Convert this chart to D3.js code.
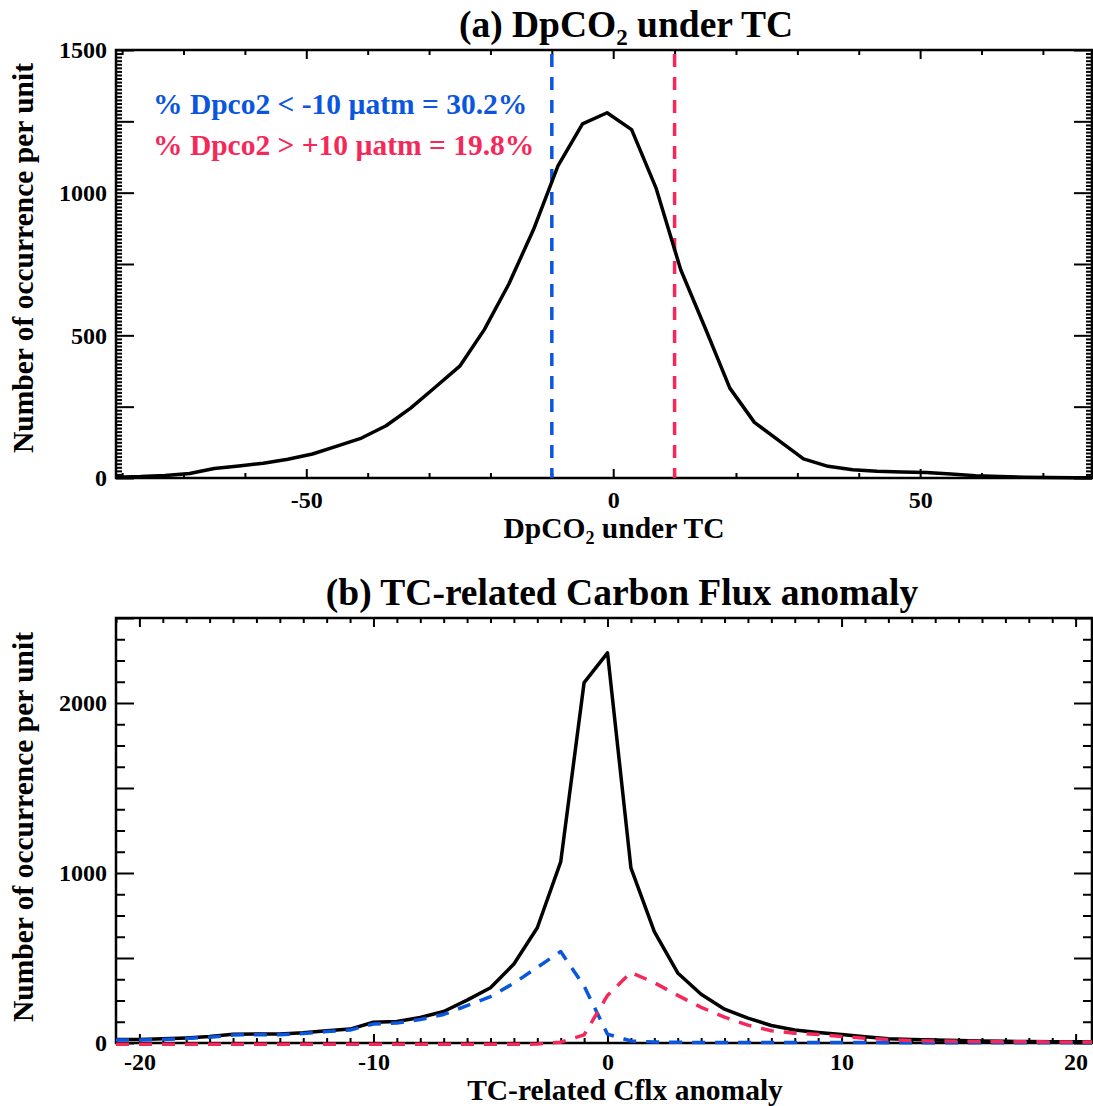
<!DOCTYPE html>
<html>
<head>
<meta charset="utf-8">
<script src="https://cdn.jsdelivr.net/npm/d3@7"></script>
<style>
body { margin: 0; background: #fff; }
text { font-family: "Liberation Serif", "Times New Roman", serif; font-weight: bold; fill: #000; }
</style>
</head>
<body>
<div id="chart"></div>
<script>
const w = 1093;
const h = 1106;
const blue = "#0a56de";
const red = "#f5285a";

// panel (a): DpCO2 under TC
const dpco2Bins = [-81, -77, -73, -69, -65, -61, -57, -53, -49, -45, -41, -37, -33, -29, -25, -21, -17, -13, -9, -5,
                   -1, 3, 7, 11, 15, 19, 23, 27, 31, 35, 39, 43, 47, 51, 55, 59, 63, 67, 71, 75, 79];
const dpco2Counts = [3, 5, 9, 16, 33, 42, 52, 66, 84, 112, 140, 183, 245, 318, 392, 520, 680, 870, 1094, 1241,
                     1280, 1221, 1015, 730, 525, 315, 195, 131, 67, 41, 29, 24, 21, 19, 14, 8, 5, 3, 2, 1, 1];
const dpco2Thresholds = [-10, 10];
const aXTicks = [-50, 0, 50];
const aYTicks = [0, 500, 1000, 1500];

// panel (b): TC-related carbon flux anomaly
const cflxBins = [-21, -20, -19, -18, -17, -16, -15, -14, -13, -12, -11, -10, -9, -8, -7, -6, -5, -4, -3, -2, -1,
                  0, 1, 2, 3, 4, 5, 6, 7, 8, 9, 10, 11, 12, 13, 14, 15, 16, 17, 18, 19, 20, 21];
const cflxTotal = [20, 20, 25, 30, 38, 52, 53, 53, 60, 72, 82, 122, 127, 150, 185, 252, 325, 465, 678, 1065, 2120,
                   2295, 1030, 655, 412, 287, 199, 146, 103, 77, 62, 50, 37, 25, 20, 17, 14, 12, 10, 9, 8, 7, 7];
const cflxNeg = [18, 17, 21, 27, 34, 47, 49, 49, 56, 67, 76, 112, 117, 138, 168, 220, 273, 352, 445, 538, 335,
                 52, 12, 6, 4, 3, 3, 3, 3, 3, 3, 3, 3, 2, 2, 2, 2, 2, 2, 2, 2, 2, 2];
const cflxPos = [-8, -8, -8, -8, -8, -8, -8, -8, -8, -8, -8, -8, -8, -8, -8, -8, -8, -8, -6, 5, 48,
                 280, 415, 355, 280, 210, 152, 105, 72, 58, 50, 38, 28, 20, 15, 12, 10, 9, 8, 7, 6, 6, 6];
const bXTicks = [-20, -10, 0, 10, 20];
const bYTicks = [0, 1000, 2000];

const left = 116, right = 1092;

const svg = d3.select("#chart").append("svg").attr("width", w).attr("height", h);

function frame(id, x, y, top, bottom, o) {
    const g = svg.append("g");
    g.append("clipPath").attr("id", id).append("rect")
        .attr("x", left).attr("y", top - 4).attr("width", right - left).attr("height", bottom - top + 8);

    const styleAxis = a => {
        a.select(".domain").remove();
        a.selectAll("line").attr("stroke", "#000").attr("stroke-width", 2);
        a.selectAll("text").attr("font-size", 24).attr("font-family", null);
    };
    const fmt = d => String(d); // plain hyphen minus like the original
    // x ticks, bottom and top
    g.append("g").attr("transform", `translate(0,${bottom})`)
        .call(d3.axisBottom(x).tickValues(o.xMinor).tickSize(-5).tickFormat("")).call(styleAxis);
    g.append("g").attr("transform", `translate(0,${bottom})`)
        .call(d3.axisBottom(x).tickValues(o.xMajor).tickSize(-9).tickPadding(o.xPad).tickFormat(fmt)).call(styleAxis);
    g.append("g").attr("transform", `translate(0,${top})`)
        .call(d3.axisTop(x).tickValues(o.xMinor).tickSize(-5).tickFormat("")).call(styleAxis);
    g.append("g").attr("transform", `translate(0,${top})`)
        .call(d3.axisTop(x).tickValues(o.xMajor).tickSize(-9).tickFormat("")).call(styleAxis);
    // y ticks, left and right
    g.append("g").attr("transform", `translate(${left},0)`)
        .call(d3.axisLeft(y).tickValues(o.yMinor).tickSize(-o.yMinorLen).tickFormat("")).call(styleAxis);
    g.append("g").attr("transform", `translate(${left},0)`)
        .call(d3.axisLeft(y).tickValues(o.yMajor).tickSize(-18).tickPadding(9)
            .tickFormat(d => o.yLabels.includes(d) ? fmt(d) : "")).call(styleAxis);
    g.append("g").attr("transform", `translate(${right},0)`)
        .call(d3.axisRight(y).tickValues(o.yMinor).tickSize(-o.yMinorLen).tickFormat("")).call(styleAxis);
    g.append("g").attr("transform", `translate(${right},0)`)
        .call(d3.axisRight(y).tickValues(o.yMajor).tickSize(-18).tickFormat("")).call(styleAxis);

    g.append("rect").attr("x", left).attr("y", top).attr("width", right - left).attr("height", bottom - top)
        .attr("fill", "none").attr("stroke", "#000").attr("stroke-width", 2.5);
    return g;
}

function ylabel(cy) {
    svg.append("text").attr("transform", `translate(33,${cy}) rotate(-90)`)
        .attr("text-anchor", "middle").attr("font-size", 29.5).text("Number of occurrence per unit");
}

// ---------- panel (a)
const xA = d3.scaleLinear().domain([-81, 78]).range([left, right]);
const yA = d3.scaleLinear().domain([0, 1500]).range([478, 50]);

frame("clipA", xA, yA, 50, 478, {
    xMajor: aXTicks,
    xMinor: d3.range(-80, 80, 10).filter(d => !aXTicks.includes(d)),
    xPad: 13,
    yMajor: d3.range(0, 1501, 250),
    yMinor: d3.range(0, 1500, 12.5).filter(d => d % 250 !== 0),
    yMinorLen: 6,
    yLabels: aYTicks
});

svg.selectAll(".thr")
    .data(dpco2Thresholds)
    .enter()
    .append("line")
    .attr("x1", d => xA(d)).attr("x2", d => xA(d))
    .attr("y1", yA(1500) + 4).attr("y2", yA(0))
    .attr("stroke", (d, i) => i === 0 ? blue : red)
    .attr("stroke-width", 3.5)
    .attr("stroke-dasharray", "13,10");

const lineA = d3.line().x((d, i) => xA(dpco2Bins[i])).y(d => yA(d));
svg.append("path")
    .attr("d", lineA(dpco2Counts))
    .attr("clip-path", "url(#clipA)")
    .attr("fill", "none").attr("stroke", "#000").attr("stroke-width", 3.5).attr("stroke-linejoin", "round");

const titleA = svg.append("text").attr("x", 626).attr("y", 37).attr("text-anchor", "middle").attr("font-size", 37.5);
titleA.append("tspan").text("(a) DpCO");
titleA.append("tspan").attr("font-size", 23).attr("dy", 8).text("2");
titleA.append("tspan").attr("dy", -8).text(" under TC");

const xtA = svg.append("text").attr("x", 614).attr("y", 538).attr("text-anchor", "middle").attr("font-size", 29.5);
xtA.append("tspan").text("DpCO");
xtA.append("tspan").attr("font-size", 18).attr("dy", 6).text("2");
xtA.append("tspan").attr("dy", -6).text(" under TC");

ylabel(258);

svg.append("text").attr("x", 153).attr("y", 114).attr("font-size", 29.5).style("fill", blue)
    .text("% Dpco2 < -10 \u00b5atm = 30.2%");
svg.append("text").attr("x", 153).attr("y", 155).attr("font-size", 29.5).style("fill", red)
    .text("% Dpco2 > +10 \u00b5atm = 19.8%");

// ---------- panel (b)
const xB = d3.scaleLinear().domain([-21, 20.7]).range([left, right]);
const yB = d3.scaleLinear().domain([0, 2500]).range([1043, 618]);

frame("clipB", xB, yB, 618, 1043, {
    xMajor: bXTicks,
    xMinor: d3.range(-21, 21, 1).filter(d => !bXTicks.includes(d)),
    xPad: 10,
    yMajor: d3.range(0, 2501, 500),
    yMinor: d3.range(0, 2500, 125).filter(d => d % 500 !== 0),
    yMinorLen: 9,
    yLabels: bYTicks
});

const lineB = d3.line().x((d, i) => xB(cflxBins[i])).y(d => yB(d));
const seriesB = [
    {vals: cflxTotal, color: "#000", dash: null},
    {vals: cflxNeg, color: blue, dash: "13,10"},
    {vals: cflxPos, color: red, dash: "13,10"}
];
svg.selectAll(".seriesB")
    .data(seriesB)
    .enter()
    .append("path")
    .attr("d", d => lineB(d.vals))
    .attr("clip-path", "url(#clipB)")
    .attr("fill", "none")
    .attr("stroke", d => d.color)
    .attr("stroke-width", 3.5)
    .attr("stroke-dasharray", d => d.dash)
    .attr("stroke-linejoin", "round");

svg.append("text").attr("x", 622).attr("y", 605).attr("text-anchor", "middle").attr("font-size", 37.5)
    .text("(b) TC-related Carbon Flux anomaly");
svg.append("text").attr("x", 625).attr("y", 1100).attr("text-anchor", "middle").attr("font-size", 29.5)
    .text("TC-related Cflx anomaly");

ylabel(827);
</script>
</body>
</html>
